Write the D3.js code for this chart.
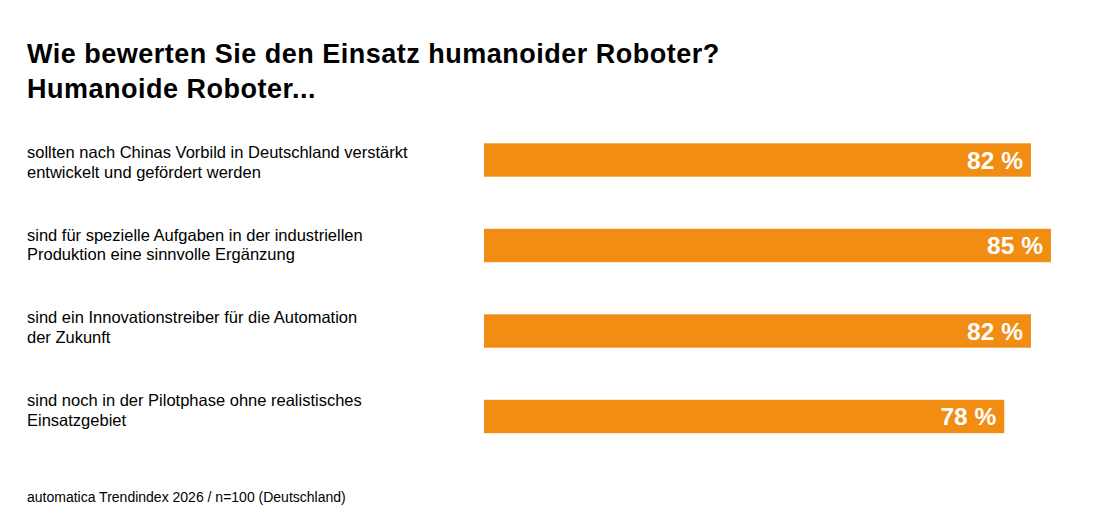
<!DOCTYPE html>
<html>
<head>
<meta charset="utf-8">
<script src="https://cdn.jsdelivr.net/npm/d3@7"></script>
<style>
  body { margin: 0; background: #fff; }
  text { font-family: "Liberation Sans", Arial, Helvetica, sans-serif; }
</style>
</head>
<body>
<div class="div_chart"></div>
<script>
const titleLines = ["Wie bewerten Sie den Einsatz humanoider Roboter?", "Humanoide Roboter..."];
const categories = [
  ["sollten nach Chinas Vorbild in Deutschland verstärkt", "entwickelt und gefördert werden"],
  ["sind für spezielle Aufgaben in der industriellen", "Produktion eine sinnvolle Ergänzung"],
  ["sind ein Innovationstreiber für die Automation", "der Zukunft"],
  ["sind noch in der Pilotphase ohne realistisches", "Einsatzgebiet"]
];
const values = [82, 85, 82, 78];
const source = "automatica Trendindex 2026 / n=100 (Deutschland)";

const width = 1094, height = 527;
const left = 27;
const barLeft = 484;
const barH = 33.4;
const step = 85.5;

const svg = d3.select(".div_chart")
  .append("svg")
    .attr("width", width)
    .attr("height", height);

svg.append("g")
  .selectAll("text")
  .data(titleLines)
  .join("text")
    .attr("x", left)
    .attr("y", (d, i) => 63 + i * 35)
    .attr("font-size", 27)
    .attr("font-weight", "bold")
    .attr("letter-spacing", 0.5)
    .attr("fill", "#000")
    .text(d => d);

// 100 % spans 667px
const x = d3.scaleLinear()
  .domain([0, 100])
  .range([barLeft, barLeft + 667]);

const y = d3.scaleBand()
  .domain(d3.range(values.length))
  .range([143.3, 143.3 + 3 * step + barH])
  .paddingInner((step - barH) / step)
  .paddingOuter(0);

// label first-line centres
const yl = d3.scalePoint()
  .domain(d3.range(values.length))
  .range([152, 400]);

const rows = svg.append("g")
  .selectAll("g")
  .data(values)
  .join("g");

rows.append("rect")
  .attr("x", x(0))
  .attr("y", (d, i) => y(i))
  .attr("width", d => x(d) - x(0))
  .attr("height", y.bandwidth())
  .attr("fill", "#f18d13");

rows.append("text")
  .attr("x", d => x(d) - 8)
  .attr("y", (d, i) => y(i) + y.bandwidth() / 2 + 8.5)
  .attr("text-anchor", "end")
  .attr("font-size", 24.5)
  .attr("font-weight", "bold")
  .attr("fill", "#fff")
  .text(d => `${d} %`);

rows.append("text")
  .attr("x", left)
  .attr("y", (d, i) => yl(i) + 6)
  .attr("font-size", 16.5)
  .attr("fill", "#000")
  .selectAll("tspan")
  .data((d, i) => categories[i])
  .join("tspan")
    .attr("x", left)
    .attr("dy", (d, j) => j === 0 ? 0 : 19.5)
    .text(d => d);

svg.append("text")
  .attr("x", left)
  .attr("y", 502)
  .attr("font-size", 14)
  .attr("fill", "#000")
  .text(source);
</script>
</body>
</html>
